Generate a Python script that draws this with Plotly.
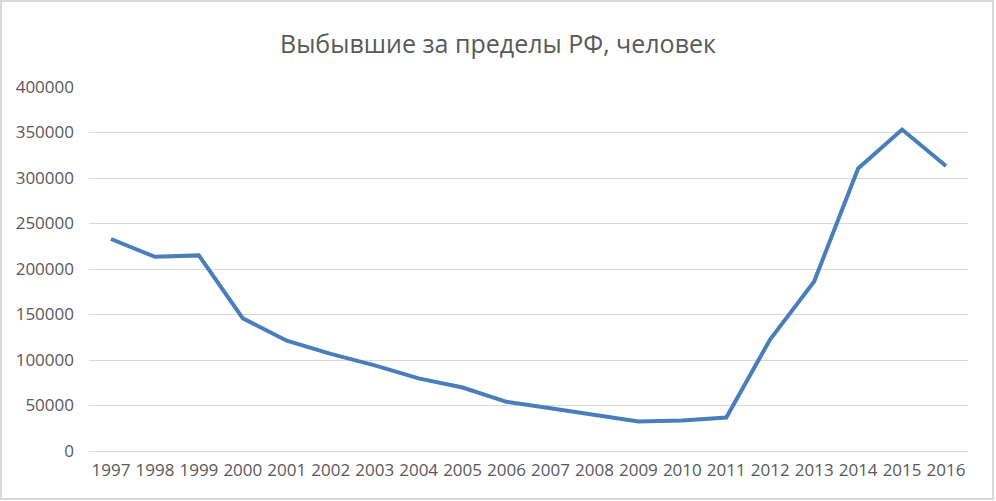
import plotly.graph_objects as go

years = ["1997", "1998", "1999", "2000", "2001", "2002", "2003", "2004", "2005", "2006",
         "2007", "2008", "2009", "2010", "2011", "2012", "2013", "2014", "2015", "2016"]
emigrants = [232987, 213377, 214963, 145720, 121166, 106685, 94018, 79795, 69798, 54061,
             47013, 39508, 32458, 33578, 36774, 122751, 186382, 310496, 353233, 313210]
y_ticks = [0, 50000, 100000, 150000, 200000, 250000, 300000, 350000, 400000]

W, H = 996, 501
ml, mr, mt, mb = 89, 28, 87, 50
pw, ph = W - ml - mr, H - mt - mb

fig = go.Figure()
fig.add_trace(go.Scatter(
    x=years, y=emigrants, mode="lines",
    line=dict(color="#4a7ebb", width=4),
    hoverinfo="x+y", showlegend=False,
))

font_family = "Open Sans, Liberation Sans, sans-serif"

# chart border (pixel positions converted to paper coords)
bx0, bx1, by0, by1 = 1, 993, 1, 499
fig.update_layout(
    width=W, height=H,
    margin=dict(l=ml, r=mr, t=mt, b=mb),
    paper_bgcolor="white", plot_bgcolor="white",
    title=dict(text="Выбывшие за пределы РФ, человек", x=0.5, xanchor="center",
               y=1 - 44 / H, yanchor="middle",
               font=dict(family=font_family, size=25, color="#595959")),
    font=dict(family=font_family, size=17, color="#595959"),
    xaxis=dict(type="category", range=[-0.5, len(years) - 0.5], showgrid=False,
               showline=False, ticks="", ticklabelstandoff=7,
               tickfont=dict(size=17, color="#595959")),
    yaxis=dict(range=[0, 400000], tickvals=y_ticks, ticktext=[str(v) for v in y_ticks],
               showgrid=True, gridcolor="#d9d9d9", gridwidth=1, zeroline=True,
               zerolinecolor="#d9d9d9", zerolinewidth=1, showline=False, ticks="",
               ticklabelstandoff=14, tickfont=dict(size=17, color="#595959")),
    shapes=[dict(type="rect", xref="paper", yref="paper",
                 x0=(bx0 - ml) / pw, x1=(bx1 - ml) / pw,
                 y0=(H - by1 - mb) / ph, y1=(H - by0 - mb) / ph,
                 line=dict(color="#d9d9d9", width=2), layer="below")],
)

fig.write_html("out.html", config={"displayModeBar": False},
               post_script="document.body.style.margin='0';")
